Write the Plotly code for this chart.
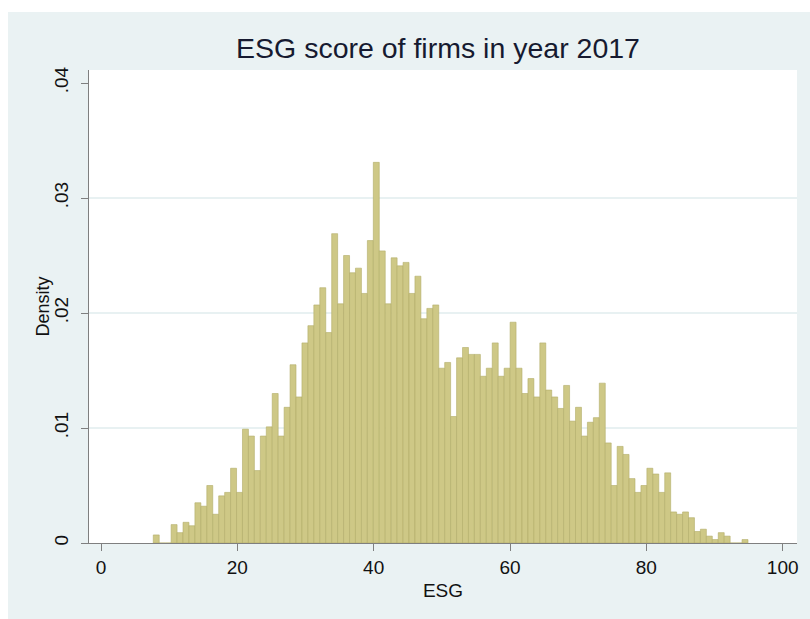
import numpy as np
import plotly.graph_objects as go

# ---- data (100 bins) ----
bin_start = 7.67
bin_width = 0.8724
density = [
    .0007, 0, 0, .0016, .0009, .0018, .0015, .0035, .0032, .0050,
    .0025, .0041, .0044, .0065, .0044, .0099, .0093, .0063, .0093, .0101,
    .0130, .0093, .0118, .0155, .0127, .0174, .0189, .0207, .0222, .0183,
    .0269, .0208, .0250, .0235, .0239, .0217, .0263, .0331, .0254, .0208,
    .0248, .0241, .0244, .0217, .0232, .0195, .0204, .0207, .0152, .0157,
    .0110, .0161, .0170, .0164, .0164, .0145, .0152, .0174, .0145, .0152,
    .0192, .0152, .0130, .0143, .0127, .0174, .0133, .0127, .0117, .0137,
    .0106, .0118, .0093, .0105, .0109, .0139, .0087, .0050, .0084, .0077,
    .0056, .0044, .0050, .0065, .0060, .0044, .0061, .0027, .0025, .0027,
    .0022, .0010, .0012, .0006, .0003, .0009, .0006, 0, 0, .0003,
]
x_ticks = [0, 20, 40, 60, 80, 100]
y_ticks = [0, 0.01, 0.02, 0.03, 0.04]
y_tick_text = ["0", ".01", ".02", ".03", ".04"]
grid_vals = [0.01, 0.02, 0.03]

centers = bin_start + bin_width * (np.arange(len(density)) + 0.5)

W, H = 810, 619
ML, MR, MT, MB = 89, 13, 70, 76
pw, ph = W - ML - MR, H - MT - MB

fig = go.Figure()
fig.add_trace(go.Bar(
    x=centers, y=density, width=bin_width,
    marker=dict(color="#cec886", line=dict(color="#b2ad68", width=0.6)),
    hoverinfo="x+y",
))

shapes = []
for g in grid_vals:
    shapes.append(dict(type="line", xref="paper", yref="y", x0=0, x1=1, y0=g, y1=g,
                       line=dict(color="#e0ecee", width=1.3), layer="below"))
# white outer strips (top and left) of the exported image
shapes.append(dict(type="rect", xref="paper", yref="paper",
                   x0=-ML / pw, x1=(W - ML) / pw,
                   y0=(H - MB - 12) / ph, y1=(H - MB) / ph + 0.01,
                   fillcolor="white", line=dict(width=0), layer="above"))
shapes.append(dict(type="rect", xref="paper", yref="paper",
                   x0=-ML / pw - 0.01, x1=(8 - ML) / pw,
                   y0=-MB / ph - 0.01, y1=(H - MB) / ph + 0.01,
                   fillcolor="white", line=dict(width=0), layer="above"))

font_family = "Liberation Sans, Arial, sans-serif"
fig.update_layout(
    width=W, height=H,
    margin=dict(l=ML, r=MR, t=MT, b=MB, pad=0),
    paper_bgcolor="#eaf2f3",
    plot_bgcolor="white",
    showlegend=False,
    font=dict(family=font_family, color="#111111", size=19),
    title=dict(text="ESG score of firms in year 2017",
               font=dict(family=font_family, size=28.5, color="#161a30"),
               x=(438 - ML) / pw, xref="paper", xanchor="center",
               y=1 - 48 / H, yref="container", yanchor="middle"),
    xaxis=dict(range=[-1.76, 102.1], tickvals=x_ticks,
               ticks="outside", ticklen=7, tickcolor="#7f7f7f", tickwidth=1.2,
               showline=True, linecolor="#7f7f7f", linewidth=1.4,
               showgrid=False, zeroline=False,
               tickfont=dict(size=19, color="#111111"),
               title=dict(text="ESG", font=dict(size=19, color="#111111"), standoff=6)),
    yaxis=dict(range=[0, (H - MT - MB) / 11500], tickvals=y_ticks, ticktext=y_tick_text,
               tickangle=-90, ticklabelstandoff=5,
               ticks="outside", ticklen=7, tickcolor="#7f7f7f", tickwidth=1.2,
               showline=True, linecolor="#7f7f7f", linewidth=1.4,
               showgrid=False, zeroline=False,
               tickfont=dict(size=19, color="#111111")),
    annotations=[dict(text="Density", xref="paper", yref="paper",
                      x=(42 - ML) / pw, y=0.5, xanchor="center", yanchor="middle",
                      textangle=-90, showarrow=False,
                      font=dict(size=18, color="#111111"))],
    shapes=shapes,
)

fig.write_html("out.html")
